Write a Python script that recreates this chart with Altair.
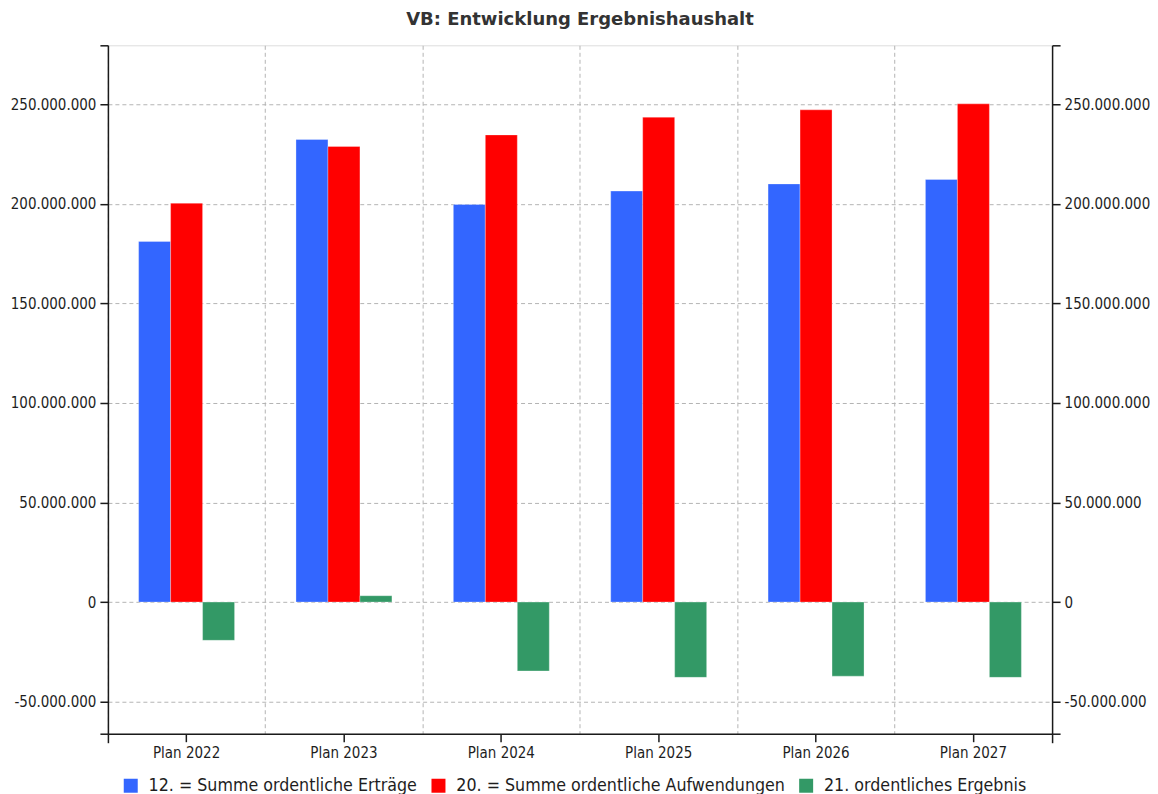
import altair as alt
import pandas as pd

categories = ["Plan 2022", "Plan 2023", "Plan 2024", "Plan 2025", "Plan 2026", "Plan 2027"]
series_names = [
    "12. = Summe ordentliche Erträge",
    "20. = Summe ordentliche Aufwendungen",
    "21. ordentliches Ergebnis",
]
ertraege = [181.1e6, 232.3e6, 199.7e6, 206.4e6, 210.0e6, 212.2e6]
aufwendungen = [200.3e6, 228.8e6, 234.6e6, 243.5e6, 247.2e6, 250.2e6]
ergebnis = [-19.2e6, 3.2e6, -34.6e6, -37.8e6, -37.2e6, -37.8e6]
colors = ["#3366FF", "#FF0000", "#339966"]

y_min, y_max = -66.1e6, 279.6e6
tick_values = [y_min, -50e6, 0, 50e6, 100e6, 150e6, 200e6, 250e6, y_max]

rows = []
for s, vals in zip(series_names, [ertraege, aufwendungen, ergebnis]):
    for c, v in zip(categories, vals):
        rows.append({"Kategorie": c, "Serie": s, "Wert": v})
df = pd.DataFrame(rows)

FONT = "DejaVu Sans Condensed"
TXT = "#1e1e1e"
AX = "#1a1a1a"
GRID = "#b4b4b4"

label_expr = ("(datum.value < -60000000 || datum.value > 260000000) ? '' : "
              "replace(replace(format(datum.value, ','), regexp(',', 'g'), '.'), '\u2212', '-')")
edge_test = "datum.value < -60000000 || datum.value > 260000000"

yscale = alt.Scale(domain=[y_min, y_max], nice=False, zero=False)
xscale = alt.Scale(paddingInner=0, paddingOuter=0)

common_y = dict(
    title=None, values=tick_values, labelExpr=label_expr, labelFont=FONT,
    labelFontSize=15, labelColor=TXT, tickSize=8, tickColor=AX, tickWidth=1.5,
    domainColor=AX, domainWidth=1.5, labelPadding=4,
)

bars = alt.Chart(df).mark_bar(strokeWidth=0.6, strokeOpacity=0.5, stroke="white").encode(
    x=alt.X("Kategorie:N", sort=categories, scale=xscale,
            axis=alt.Axis(orient="bottom", title=None, labelAngle=0, labelFont=FONT,
                          labelFontSize=15, labelColor=TXT, tickSize=8, tickColor=AX,
                          tickWidth=1.5, domainColor=AX, domainWidth=1.5, grid=False,
                          labelPadding=4)),
    xOffset=alt.XOffset("Serie:N", sort=series_names,
                        scale=alt.Scale(paddingInner=0, paddingOuter=0.96)),
    y=alt.Y("Wert:Q", scale=yscale,
            axis=alt.Axis(orient="left", grid=True, gridDash=[4, 3], gridColor=GRID,
                          gridWidth=1,
                          gridOpacity={"condition": {"test": edge_test, "value": 0}, "value": 1},
                          **common_y)),
    color=alt.Color("Serie:N", sort=series_names,
                    scale=alt.Scale(domain=series_names, range=colors),
                    legend=alt.Legend(orient="none", legendX=14, legendY=732,
                                      direction="horizontal", title=None,
                                      symbolType="square", symbolSize=196,
                                      symbolStrokeWidth=0, labelFont=FONT,
                                      labelFontSize=17.7, labelColor=TXT, labelLimit=0,
                                      columnPadding=12, labelOffset=9)),
)

right = alt.Chart(df).mark_bar(opacity=0).encode(
    x=alt.X("Kategorie:N", sort=categories, scale=xscale,
            axis=alt.Axis(orient="bottom", title=None, labels=False, domain=False,
                          grid=True, gridDash=[4, 3], gridColor=GRID, gridWidth=1,
                          bandPosition=0, tickSize=9, tickColor=AX, tickWidth=1.5,
                          tickOpacity={"condition": {"test": "datum.value == 'Plan 2022'", "value": 1}, "value": 0})),
    y=alt.Y("Wert:Q", scale=yscale, stack=None,
            axis=alt.Axis(orient="right", grid=False, **common_y)),
)

end = alt.Chart(df).mark_bar(opacity=0).encode(
    x=alt.X("Kategorie:N", sort=categories, scale=xscale,
            axis=alt.Axis(orient="bottom", title=None, labels=False, domain=False,
                          grid=False, bandPosition=1, tickSize=9, tickColor=AX, tickWidth=1.5,
                          tickOpacity={"condition": {"test": "datum.value == 'Plan 2027'", "value": 1}, "value": 0})),
    y=alt.Y("Wert:Q", scale=yscale, stack=None, axis=None),
)

chart = alt.layer(bars, right, end).resolve_axis(x="independent", y="independent").properties(
    width=945,
    height=689,
    padding={"left": 2, "top": 2, "right": 0, "bottom": 0},
    title=alt.TitleParams("VB: Entwicklung Ergebnishaushalt", font="DejaVu Sans", fontSize=18,
                          fontWeight="bold", color="#333333", anchor="middle", offset=16),
).configure_view(stroke=None).configure(background="white")

chart.save("out.html", embed_options={"renderer": "svg", "actions": False})
